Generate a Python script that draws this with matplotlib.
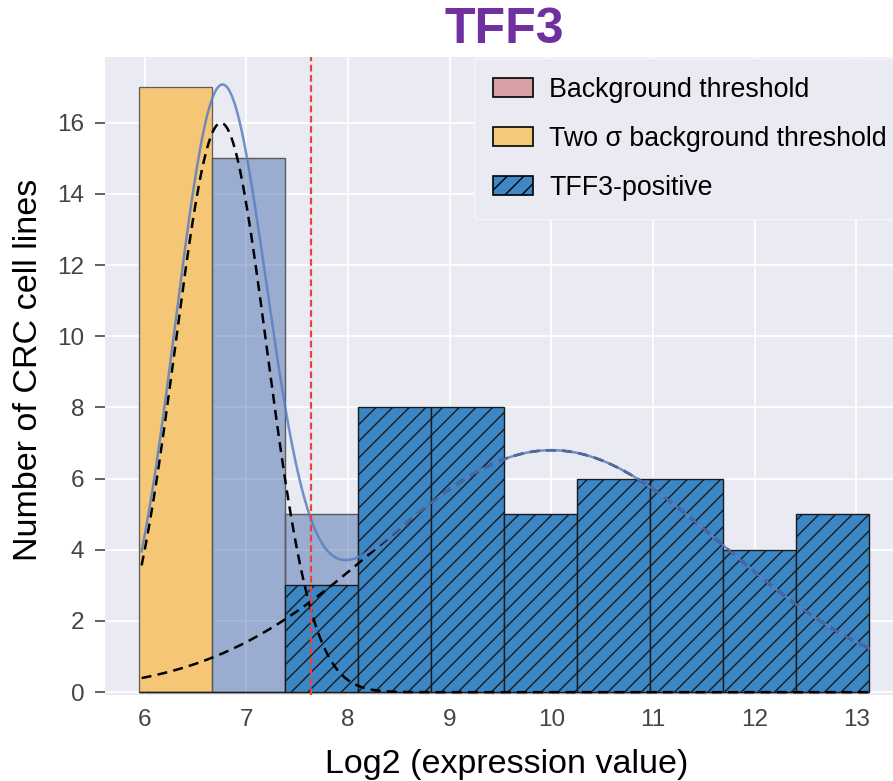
import matplotlib.pyplot as plt
import numpy as np
from matplotlib.patches import Patch

# histogram counts per bin (10 bins between 5.94 and 13.12)
bin_edges = np.linspace(5.94, 13.12, 11)
background_counts = [17, 0, 0, 0, 0, 0, 0, 0, 0, 0]
below_counts = [0, 15, 5, 0, 0, 0, 0, 0, 0, 0]
positive_counts = [0, 0, 3, 8, 8, 5, 6, 6, 4, 5]

# fitted mixture components (mean, sd, peak height in counts)
comp_means = [6.75, 10.0]
comp_sds = [0.45, 1.69]
comp_peaks = [16.0, 6.8]

threshold = 7.64
legend_labels = ["Background threshold", "Two σ background threshold", "TFF3-positive"]


def main():
    plt.rcParams["font.family"] = ["Liberation Sans", "DejaVu Sans"]

    fig = plt.figure(figsize=(8.93, 7.81), dpi=100)
    ax = fig.add_axes([105 / 893, 1 - 695 / 781, 788 / 893, 638 / 781])
    ax.set_facecolor("#EAEAF2")
    for s in ax.spines.values():
        s.set_visible(False)
    ax.grid(color="white", lw=1.3)
    ax.set_axisbelow(True)

    left = bin_edges[:-1]
    width = np.diff(bin_edges)

    ax.bar(left, background_counts, width=width, align="edge",
           color="#F5C46E", edgecolor="#555555", lw=0.9, alpha=0.95, zorder=2)
    ax.bar(left, below_counts, width=width, align="edge",
           color="#4C72B0", alpha=0.5, edgecolor="#333333", lw=0.9, zorder=2)
    # edge lines for the transparent bars drawn again without alpha
    ax.bar(left, below_counts, width=width, align="edge",
           fill=False, edgecolor="#5a5a5a", lw=0.9, zorder=2)
    ax.bar(left, positive_counts, width=width, align="edge",
           color="#3B86C4", edgecolor="#1a1a1a", hatch="//", lw=1.0, zorder=3)

    # mixture curves
    xs = np.linspace(bin_edges[0] + 0.03, bin_edges[-1], 400)
    comps = []
    for m, sd, pk in zip(comp_means, comp_sds, comp_peaks):
        c = pk * np.exp(-((xs - m) ** 2) / (2 * sd ** 2))
        comps.append(c)
        ax.plot(xs, c, color="black", ls=(0, (4, 2.5)), lw=1.8, zorder=4)
    ax.plot(xs, comps[0] + comps[1], color="#5B7FC2", lw=1.8, alpha=0.85, zorder=5)

    ax.axvline(threshold, color="#E8423F", ls=(0, (3, 1.6)), lw=1.6, zorder=5)

    ax.set_xlim(5.61, 13.36)
    ax.set_ylim(-0.08, 17.85)
    ax.set_xticks(range(6, 14))
    ax.set_yticks(range(0, 17, 2))
    ax.tick_params(axis="x", length=0, pad=10, labelsize=17.5, labelcolor="#444444")
    ax.tick_params(axis="y", length=7, width=1.3, color="#555555", pad=8,
                   labelsize=17.5, labelcolor="#444444")

    ax.set_xlabel("Log2 (expression value)", fontsize=24.5)
    ax.xaxis.set_label_coords(0.51, -0.085)
    ax.set_ylabel("Number of CRC cell lines", fontsize=24.5)
    ax.yaxis.set_label_coords(-0.077, 0.51)

    fig.text(504 / 893, 1 - 30 / 781, "TFF3", fontsize=36, fontweight="bold",
             color="#7030A0", ha="center", va="center")

    handles = [
        Patch(facecolor="#D9A0A6", edgecolor="black", lw=1.2),
        Patch(facecolor="#F5C97A", edgecolor="black", lw=1.2),
        Patch(facecolor="#3F87C5", edgecolor="black", hatch="//", lw=1.2),
    ]
    leg = ax.legend(handles, legend_labels, loc="upper right",
                    bbox_to_anchor=(1 + 14 / 788, 1.0), fontsize=19.3,
                    frameon=True, facecolor="#EAEAF2", edgecolor="#F5F5F8",
                    framealpha=1, fancybox=True, borderaxespad=0.05,
                    borderpad=0.7, labelspacing=0.85, handlelength=1.5,
                    handleheight=0.7, handletextpad=0.6)
    leg.set_zorder(6)

    fig.savefig("out.png", dpi=100)


if __name__ == "__main__":
    main()
